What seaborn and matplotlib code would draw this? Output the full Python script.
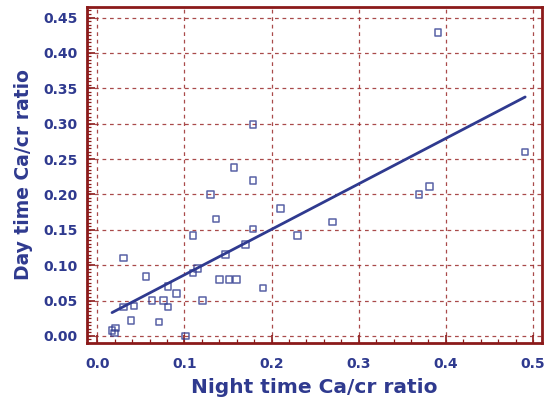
import matplotlib
matplotlib.use("Agg")
import matplotlib.pyplot as plt
import seaborn as sns
import pandas as pd
from matplotlib.ticker import MultipleLocator, FormatStrFormatter

# valores (razao Ca/cr noite x dia)
night = [0.017, 0.021, 0.020, 0.030, 0.030, 0.042, 0.039, 0.056, 0.063, 0.071,
         0.076, 0.081, 0.081, 0.091, 0.101, 0.110, 0.110, 0.115, 0.121, 0.130,
         0.136, 0.140, 0.147, 0.151, 0.160, 0.157, 0.179, 0.179, 0.170, 0.179,
         0.190, 0.210, 0.230, 0.270, 0.369, 0.381, 0.391, 0.491]
day = [0.008, 0.011, 0.004, 0.110, 0.041, 0.042, 0.022, 0.084, 0.050, 0.020,
       0.050, 0.070, 0.041, 0.060, 0.000, 0.142, 0.089, 0.095, 0.050, 0.200,
       0.165, 0.080, 0.115, 0.080, 0.080, 0.238, 0.220, 0.299, 0.129, 0.151,
       0.068, 0.180, 0.142, 0.161, 0.200, 0.211, 0.429, 0.260]

x_label = "Night time Ca/cr ratio"
y_label = "Day time Ca/cr ratio"

df = pd.DataFrame({"night": night, "day": day})

azul = "#2f3a8f"
vermelho = "#8b1a1a"

sns.set_style("white")
plt.rcParams['font.family'] = ['DejaVu Sans']

fig = plt.figure(figsize=(5.45, 4.05), dpi=100)
ax = fig.add_axes([0.160, 0.153, 0.834, 0.830])

# dispersao + reta de regressao
sns.regplot(data=df, x="night", y="day", ci=None, ax=ax,
            marker="s",
            scatter_kws={"s": 22, "facecolors": "none", "edgecolors": azul, "linewidths": 1.1},
            line_kws={"color": azul, "lw": 2})

ax.set_xlim(-0.0115, 0.510)
ax.set_ylim(-0.010, 0.465)

ax.xaxis.set_major_locator(MultipleLocator(0.1))
ax.xaxis.set_minor_locator(MultipleLocator(0.02))
ax.yaxis.set_major_locator(MultipleLocator(0.05))
ax.yaxis.set_minor_locator(MultipleLocator(0.005))
ax.xaxis.set_major_formatter(FormatStrFormatter('%.1f'))
ax.yaxis.set_major_formatter(FormatStrFormatter('%.2f'))

ax.grid(True, which="major", color="#9a2a2a", linestyle=(0, (3, 3)), linewidth=0.9, alpha=0.85)

for s in ax.spines.values():
    s.set_color(vermelho)
    s.set_linewidth(2)

ax.tick_params(which="both", direction="in", color=vermelho, labelcolor=azul)
ax.tick_params(which="major", length=6, width=1.2, labelsize=10)
ax.tick_params(axis="x", which="major", pad=10)
ax.tick_params(axis="y", which="major", pad=7)
ax.tick_params(which="minor", length=3, width=0.9)
ax.tick_params(top=False, right=False, which="both", bottom=True, left=True)
for lab in ax.get_xticklabels() + ax.get_yticklabels():
    lab.set_fontweight("bold")

ax.set_xlabel(x_label, color=azul, fontsize=14.5, fontweight="bold", labelpad=5)
ax.set_ylabel(y_label, color=azul, fontsize=13.5, fontweight="bold", labelpad=7)

plt.savefig("out.png", dpi=100)
plt.close()
